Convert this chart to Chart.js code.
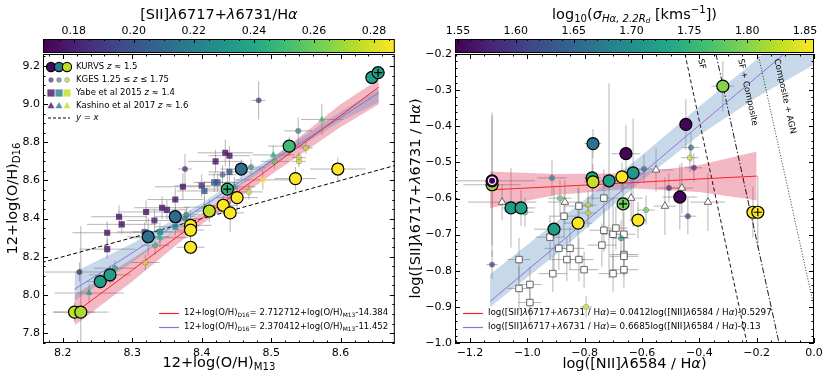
<!DOCTYPE html>
<html lang="en">
<head>
<meta charset="UTF-8" />
<title>Metallicity and [SII]/Hα relations</title>
<script src="https://cdn.jsdelivr.net/npm/chart.js@4"></script>
<style>
  * { margin: 0; padding: 0; box-sizing: border-box; }
  body { background: #fff; width: 830px; height: 378px; position: relative; overflow: hidden; }
  canvas { position: absolute; top: 0; }
  #left { left: 0; }
  #right { left: 402px; }
</style>
</head>
<body>
<canvas id="left" width="402" height="378"></canvas>
<canvas id="right" width="428" height="378"></canvas>
<script>
// ---------- left panel: 12+log(O/H) D16 vs M13, coloured by [SII]/Ha ----------
// rows: [x, y, x error, y error, colour value]
const kurvsOH = [
  [8.217, 7.91, 0.03, 0.05, 0.276], [8.226, 7.91, 0.04, 0.45, 0.272],
  [8.254, 8.07, 0.02, 0.04, 0.235], [8.268, 8.105, 0.03, 0.05, 0.235],
  [8.323, 8.305, 0.03, 0.10, 0.213], [8.362, 8.41, 0.03, 0.05, 0.210],
  [8.384, 8.365, 0.03, 0.08, 0.287], [8.384, 8.34, 0.02, 0.05, 0.287],
  [8.384, 8.25, 0.02, 0.04, 0.287], [8.411, 8.44, 0.02, 0.06, 0.276],
  [8.431, 8.47, 0.02, 0.05, 0.287], [8.437, 8.555, 0.03, 0.08, 0.245],
  [8.441, 8.43, 0.02, 0.10, 0.287], [8.451, 8.51, 0.03, 0.07, 0.287],
  [8.457, 8.66, 0.03, 0.05, 0.212], [8.526, 8.78, 0.03, 0.05, 0.250],
  [8.535, 8.61, 0.03, 0.06, 0.287], [8.596, 8.66, 0.04, 0.06, 0.287],
  [8.645, 9.14, 0.01, 0.03, 0.235], [8.654, 9.165, 0.01, 0.03, 0.235]
];
const markedOH = [[8.437, 8.555], [8.654, 9.165]];
const kgesOH = [
  [8.224, 8.12, 0.05, 0.05, 0.175], [8.275, 8.14, 0.03, 0.04, 0.235],
  [8.319, 8.17, 0.02, 0.04, 0.280], [8.333, 8.26, 0.02, 0.05, 0.250],
  [8.376, 8.40, 0.02, 0.04, 0.220], [8.378, 8.42, 0.02, 0.04, 0.230],
  [8.376, 8.66, 0.01, 0.08, 0.175], [8.430, 8.63, 0.02, 0.05, 0.200],
  [8.482, 9.02, 0.01, 0.10, 0.180], [8.539, 8.86, 0.02, 0.07, 0.215],
  [8.550, 8.77, 0.01, 0.03, 0.280], [8.540, 8.72, 0.01, 0.03, 0.280],
  [8.540, 8.70, 0.01, 0.03, 0.280], [8.505, 8.70, 0.02, 0.04, 0.260],
  [8.471, 8.67, 0.02, 0.04, 0.230], [8.468, 8.54, 0.02, 0.04, 0.280]
];
const yabeOH = [
  [8.264, 8.326, 0.05, 0.06, 0.175], [8.264, 8.24, 0.04, 0.05, 0.175],
  [8.281, 8.41, 0.04, 0.06, 0.175], [8.285, 8.37, 0.05, 0.05, 0.175],
  [8.318, 8.33, 0.04, 0.05, 0.190], [8.320, 8.435, 0.04, 0.06, 0.175],
  [8.332, 8.39, 0.04, 0.06, 0.180], [8.340, 8.33, 0.04, 0.05, 0.225],
  [8.343, 8.457, 0.04, 0.06, 0.175], [8.350, 8.446, 0.03, 0.05, 0.180],
  [8.362, 8.357, 0.03, 0.05, 0.225], [8.362, 8.50, 0.04, 0.06, 0.175],
  [8.373, 8.567, 0.04, 0.07, 0.175], [8.400, 8.572, 0.04, 0.06, 0.185],
  [8.404, 8.545, 0.04, 0.05, 0.200], [8.418, 8.59, 0.03, 0.05, 0.200],
  [8.423, 8.59, 0.03, 0.05, 0.200], [8.420, 8.70, 0.04, 0.06, 0.175],
  [8.434, 8.745, 0.04, 0.07, 0.175], [8.440, 8.73, 0.03, 0.05, 0.175],
  [8.440, 8.645, 0.03, 0.05, 0.200]
];
const kashinoOH = [
  [8.238, 8.01, 0.05, 0.05, 0.235], [8.340, 8.30, 0.04, 0.05, 0.245],
  [8.404, 8.46, 0.03, 0.05, 0.250], [8.503, 8.734, 0.03, 0.05, 0.245],
  [8.488, 8.603, 0.04, 0.05, 0.285], [8.447, 8.567, 0.03, 0.05, 0.235],
  [8.573, 8.92, 0.03, 0.08, 0.250]
];
const identityOH = [8.17, 8.68];
const fitOHx = [8.217, 8.30, 8.40, 8.50, 8.60, 8.655];
const fitOHred = [7.905, 8.13, 8.40, 8.67, 8.94, 9.09];
const fitOHredHi = [8.00, 8.19, 8.43, 8.71, 9.00, 9.13];
const fitOHredLo = [7.84, 8.07, 8.37, 8.63, 8.88, 9.00];
const fitOHpurple = [8.03, 8.22, 8.46, 8.70, 8.93, 9.06];
const fitOHblueHi = [8.12, 8.27, 8.48, 8.72, 8.96, 9.08];
const fitOHblueLo = [7.97, 8.17, 8.44, 8.68, 8.91, 9.01];
const ohXTicks = [8.2, 8.3, 8.4, 8.5, 8.6];
const ohYTicks = [7.8, 8.0, 8.2, 8.4, 8.6, 8.8, 9.0, 9.2];
const siiTicks = [0.18, 0.20, 0.22, 0.24, 0.26, 0.28];

// ---------- right panel: [SII]/Ha vs [NII]/Ha, coloured by log sigma ----------
const kurvsS = [
  [-1.123, -0.562, 0.10, 0.20, 1.81], [-1.123, -0.551, 0.15, 0.18, 1.55],
  [-1.057, -0.626, 0.03, 0.11, 1.72], [-1.022, -0.626, 0.05, 0.05, 1.72],
  [-0.907, -0.685, 0.07, 0.12, 1.72], [-0.771, -0.448, 0.03, 0.04, 1.665],
  [-0.774, -0.543, 0.03, 0.08, 1.73], [-0.771, -0.554, 0.03, 0.05, 1.83],
  [-0.715, -0.551, 0.03, 0.27, 1.72], [-0.670, -0.540, 0.03, 0.04, 1.86],
  [-0.631, -0.529, 0.03, 0.15, 1.71], [-0.656, -0.476, 0.05, 0.08, 1.55],
  [-0.823, -0.668, 0.05, 0.10, 1.86], [-0.666, -0.615, 0.02, 0.08, 1.79],
  [-0.614, -0.660, 0.03, 0.05, 1.86], [-0.447, -0.395, 0.02, 0.07, 1.55],
  [-0.318, -0.289, 0.04, 0.07, 1.80], [-0.468, -0.596, 0.06, 0.09, 1.55],
  [-0.213, -0.638, 0.02, 0.07, 1.86], [-0.196, -0.638, 0.02, 0.10, 1.86]
];
const markedS = [[-0.666, -0.615], [-0.196, -0.638]];
const ringS = [[-1.123, -0.551]];
const kgesS = [
  [-0.914, -0.543, 0.05, 0.05, 1.68], [-0.886, -0.599, 0.04, 0.05, 1.78],
  [-1.008, -0.638, 0.03, 0.04, 1.76], [-0.788, -0.618, 0.03, 0.04, 1.84],
  [-0.788, -0.640, 0.03, 0.04, 1.84], [-0.673, -0.710, 0.03, 0.05, 1.70],
  [-0.593, -0.518, 0.03, 0.04, 1.65], [-0.586, -0.632, 0.03, 0.04, 1.79],
  [-0.429, -0.459, 0.03, 0.04, 1.65], [-0.433, -0.487, 0.03, 0.04, 1.84],
  [-0.419, -0.515, 0.03, 0.04, 1.58], [-0.506, -0.571, 0.04, 0.04, 1.58],
  [-0.440, -0.649, 0.03, 0.05, 1.58], [-1.123, -0.783, 0.02, 0.04, 1.58],
  [-0.795, -0.900, 0.02, 0.03, 1.84]
];
const squaresS = [
  [-0.733, -0.599, 0.06, 0.08], [-0.820, -0.621, 0.05, 0.05], [-0.872, -0.649, 0.05, 0.06],
  [-0.921, -0.707, 0.05, 0.06], [-0.890, -0.738, 0.05, 0.06], [-0.851, -0.738, 0.05, 0.06],
  [-0.733, -0.688, 0.05, 0.06], [-0.701, -0.699, 0.04, 0.10], [-0.691, -0.682, 0.04, 0.06],
  [-0.663, -0.699, 0.04, 0.06], [-0.740, -0.729, 0.05, 0.06], [-0.663, -0.755, 0.05, 0.06],
  [-1.029, -0.769, 0.04, 0.06], [-0.862, -0.769, 0.06, 0.06], [-0.820, -0.769, 0.05, 0.06],
  [-0.802, -0.797, 0.05, 0.05], [-0.911, -0.808, 0.05, 0.05], [-0.701, -0.808, 0.05, 0.05],
  [-0.663, -0.797, 0.05, 0.05], [-0.663, -0.760, 0.05, 0.05], [-0.991, -0.838, 0.04, 0.05],
  [-1.029, -0.849, 0.04, 0.06], [-0.991, -0.888, 0.04, 0.05]
];
const trianglesS = [
  [-1.088, -0.610, 0.12, 0.05], [-0.869, -0.610, 0.06, 0.06], [-0.638, -0.599, 0.04, 0.06],
  [-0.551, -0.521, 0.06, 0.06], [-0.461, -0.571, 0.04, 0.07], [-0.520, -0.621, 0.04, 0.08],
  [-0.370, -0.610, 0.06, 0.08]
];
const fitSx = [-1.13, -0.9, -0.63, -0.4, -0.2];
const fitSred = [-0.576, -0.567, -0.556, -0.546, -0.538];
const fitSredHi = [-0.525, -0.532, -0.530, -0.507, -0.470];
const fitSredLo = [-0.626, -0.590, -0.572, -0.582, -0.605];
const fitSx2 = [-1.13, -0.9, -0.6, -0.4, -0.2, 0.0];
const fitSpurple = [-0.885, -0.732, -0.531, -0.397, -0.264, -0.130];
const fitSblueHi = [-0.810, -0.665, -0.480, -0.345, -0.215, -0.080];
const fitSblueLo = [-0.900, -0.755, -0.550, -0.425, -0.320, -0.230];
const sfLine = [[-0.450, -0.2], [-0.234, -1.0]];
const sfCompLine = [[-0.342, -0.2], [-0.122, -1.0]];
const compAgnLine = [[-0.195, -0.2], [0.0, -0.9]];
const sXTicks = [-1.2, -1.0, -0.8, -0.6, -0.4, -0.2, 0.0];
const sYTicks = [-1.0, -0.9, -0.8, -0.7, -0.6, -0.5, -0.4, -0.3, -0.2];
const sigmaTicks = [1.55, 1.60, 1.65, 1.70, 1.75, 1.80, 1.85];

// ---------- helpers ----------
Chart.defaults.font.family = '"DejaVu Sans", sans-serif';
const viridisStops = ['#440154', '#482475', '#414487', '#355f8d', '#2a788e', '#21918c',
  '#22a884', '#44bf70', '#7ad151', '#bddf26', '#fde725'];
function hexRgb(h) { return [1, 3, 5].map(i => parseInt(h.substr(i, 2), 16)); }
function viridis(t, a = 1) {
  t = Math.min(1, Math.max(0, t));
  const p = t * (viridisStops.length - 1);
  const i = Math.min(Math.floor(p), viridisStops.length - 2), f = p - i;
  const c0 = hexRgb(viridisStops[i]), c1 = hexRgb(viridisStops[i + 1]);
  const c = c0.map((v, k) => Math.round(v + (c1[k] - v) * f));
  return `rgba(${c[0]},${c[1]},${c[2]},${a})`;
}

function fontStr(size, it) { return (it ? 'italic ' : '') + size + 'px "DejaVu Sans"'; }
function drawRich(ctx, segs, x, y, size, align, rot) {
  let w = 0;
  for (const g of segs) { ctx.font = fontStr(size * (g.s || 1), g.it); w += ctx.measureText(g.t).width; }
  ctx.save();
  ctx.translate(x, y);
  if (rot) ctx.rotate(rot);
  ctx.fillStyle = '#000';
  ctx.textAlign = 'left';
  ctx.textBaseline = 'middle';
  let cx = align === 'center' ? -w / 2 : 0;
  for (const g of segs) {
    ctx.font = fontStr(size * (g.s || 1), g.it);
    ctx.fillText(g.t, cx, (g.dy || 0) * size);
    cx += ctx.measureText(g.t).width;
  }
  ctx.restore();
}
const T = t => ({ t });
const I = t => ({ t, it: true });
const SUB = (t, it) => ({ t, s: 0.7, dy: 0.28, it });
const SUP = t => ({ t, s: 0.7, dy: -0.35 });

function mark(ctx, style, x, y, r, fill, stroke, lw) {
  ctx.beginPath();
  if (style === 'circle') ctx.arc(x, y, r, 0, Math.PI * 2);
  else if (style === 'rect') ctx.rect(x - r, y - r, 2 * r, 2 * r);
  else { ctx.moveTo(x, y - r); ctx.lineTo(x + r * 0.87, y + r * 0.55); ctx.lineTo(x - r * 0.87, y + r * 0.55); ctx.closePath(); }
  ctx.fillStyle = fill;
  ctx.fill();
  if (lw) { ctx.lineWidth = lw; ctx.strokeStyle = stroke; ctx.stroke(); }
}

function pointsSet(rows, o) {
  return {
    type: 'scatter',
    data: rows.map(r => ({ x: r[0], y: r[1] })),
    errs: rows.map(r => [r[2] || 0, r[3] || 0]),
    pointStyle: o.style,
    pointRadius: o.r,
    pointBorderWidth: o.lw,
    pointBorderColor: o.edge,
    pointBackgroundColor: o.fill ? o.fill : rows.map(r => viridis((r[4] - o.cmin) / (o.cmax - o.cmin), o.alpha)),
    order: o.order
  };
}
function lineSet(xs, ys, o) {
  return {
    type: 'line',
    data: xs.map((x, i) => ({ x, y: ys[i] })),
    borderColor: o.color || 'rgba(0,0,0,0)',
    borderWidth: o.lw || 0,
    borderDash: o.dash || [],
    pointRadius: 0,
    fill: o.fill || false,
    backgroundColor: o.bg || 'rgba(0,0,0,0)',
    tension: 0,
    order: o.order
  };
}
const pairX = l => l.map(p => p[0]);
const pairY = l => l.map(p => p[1]);

function fmtTick(dec) { return v => v.toFixed(dec).replace('-', '\u2212'); }

function panelPlugin(p) {
  return {
    id: 'panel_' + p.name,
    beforeDatasetsDraw(chart) {
      const { ctx, chartArea: a, scales: { x, y } } = chart;
      ctx.save();
      ctx.beginPath();
      ctx.rect(a.left, a.top, a.right - a.left, a.bottom - a.top);
      ctx.clip();
      ctx.strokeStyle = 'rgba(120,120,120,0.55)';
      ctx.lineWidth = 1;
      chart.data.datasets.forEach(ds => {
        if (!ds.errs) return;
        ds.data.forEach((pt, i) => {
          const [xe, ye] = ds.errs[i];
          const px = x.getPixelForValue(pt.x), py = y.getPixelForValue(pt.y);
          ctx.beginPath();
          ctx.moveTo(x.getPixelForValue(pt.x - xe), py);
          ctx.lineTo(x.getPixelForValue(pt.x + xe), py);
          ctx.moveTo(px, y.getPixelForValue(pt.y - ye));
          ctx.lineTo(px, y.getPixelForValue(pt.y + ye));
          ctx.stroke();
        });
      });
      ctx.restore();
    },
    afterDraw(chart) {
      const { ctx, chartArea: a, scales: { x, y } } = chart;
      ctx.save();
      if (p.decorate) p.decorate(ctx, chart);
      // frame
      ctx.strokeStyle = '#000';
      ctx.lineWidth = 1;
      ctx.strokeRect(a.left + 0.5, a.top + 0.5, a.right - a.left - 1, a.bottom - a.top - 1);
      // inward ticks on all four sides
      ctx.beginPath();
      const tickX = (v, len) => { const px = Math.round(x.getPixelForValue(v)) + 0.5;
        ctx.moveTo(px, a.bottom); ctx.lineTo(px, a.bottom - len); ctx.moveTo(px, a.top); ctx.lineTo(px, a.top + len); };
      const tickY = (v, len) => { const py = Math.round(y.getPixelForValue(v)) + 0.5;
        ctx.moveTo(a.left, py); ctx.lineTo(a.left + len, py); ctx.moveTo(a.right, py); ctx.lineTo(a.right - len, py); };
      for (let v = Math.ceil(x.min / p.xMinor) * p.xMinor; v <= x.max; v += p.xMinor) tickX(v, 2.5);
      for (let v = Math.ceil(y.min / p.yMinor) * p.yMinor; v <= y.max; v += p.yMinor) tickY(v, 2.5);
      p.xTicks.forEach(v => tickX(v, 5));
      p.yTicks.forEach(v => tickY(v, 5));
      ctx.stroke();
      // colour bar
      const cb = p.cbar, L = a.left, R = a.right, top = 39, bot = 53;
      const cx = v => L + (v - cb.min) / (cb.max - cb.min) * (R - L);
      const grad = ctx.createLinearGradient(L, 0, R, 0);
      viridisStops.forEach((c, i) => grad.addColorStop(i / (viridisStops.length - 1), c));
      ctx.fillStyle = grad;
      ctx.fillRect(L, top, R - L, bot - top);
      ctx.strokeRect(L + 0.5, top + 0.5, R - L - 1, bot - top - 1);
      ctx.beginPath();
      for (let v = Math.ceil(cb.min / cb.minor) * cb.minor; v <= cb.max; v += cb.minor) {
        const px = Math.round(cx(v)) + 0.5; ctx.moveTo(px, top); ctx.lineTo(px, top + 2);
      }
      cb.ticks.forEach(v => { const px = Math.round(cx(v)) + 0.5; ctx.moveTo(px, top); ctx.lineTo(px, top + 4); });
      ctx.stroke();
      ctx.fillStyle = '#000';
      ctx.font = fontStr(11);
      ctx.textAlign = 'center';
      ctx.textBaseline = 'middle';
      cb.ticks.forEach(v => ctx.fillText(v.toFixed(2), cx(v), 31));
      drawRich(ctx, cb.title, (L + R) / 2, 15, 14.5, 'center');
      ctx.restore();
    }
  };
}

function buildPanel(id, p) {
  return new Chart(document.getElementById(id), {
    type: 'scatter',
    data: { datasets: p.datasets },
    options: {
      responsive: false,
      animation: false,
      devicePixelRatio: 1,
      events: [],
      layout: { padding: { top: 54, right: p.padRight, left: 0, bottom: 0 } },
      plugins: { legend: { display: false }, tooltip: { enabled: false } },
      scales: {
        x: {
          type: 'linear', min: p.xMin, max: p.xMax,
          grid: { display: false, drawTicks: false }, border: { display: false },
          ticks: { color: '#000', font: { size: 11 }, padding: 4, callback: fmtTick(p.xDec), maxRotation: 0 },
          afterBuildTicks: s => { s.ticks = p.xTicks.map(v => ({ value: v })); },
          afterFit: s => { s.height = 35; }
        },
        y: {
          type: 'linear', min: p.yMin, max: p.yMax,
          grid: { display: false, drawTicks: false }, border: { display: false },
          ticks: { color: '#000', font: { size: 11 }, padding: 3, callback: fmtTick(1) },
          afterBuildTicks: s => { s.ticks = p.yTicks.map(v => ({ value: v })); },
          afterFit: s => { s.width = p.yWidth; }
        }
      }
    },
    plugins: [panelPlugin(p)]
  });
}

// ---------- left panel ----------
const siiMin = 0.1698, siiMax = 0.2869;
const cOH = { cmin: siiMin, cmax: siiMax };
buildPanel('left', {
  name: 'oh', xMin: 8.1716, xMax: 8.678, yMin: 7.748, yMax: 9.263,
  xTicks: ohXTicks, yTicks: ohYTicks, xMinor: 0.02, yMinor: 0.05, xDec: 1,
  yWidth: 43, padRight: 2,
  cbar: { min: siiMin, max: siiMax, ticks: siiTicks, minor: 0.005,
    title: [T('[SII]'), I('λ'), T('6717+'), I('λ'), T('6731/H'), I('α')] },
  datasets: [
    pointsSet(kurvsOH, { ...cOH, style: 'circle', r: 6, lw: 1.2, edge: '#000', alpha: 1, order: 1 }),
    pointsSet(markedOH, { style: 'cross', r: 4, lw: 1.2, edge: '#000', fill: 'rgba(0,0,0,0)', order: 0 }),
    pointsSet(kgesOH, { ...cOH, style: 'circle', r: 2.7, lw: 0.6, edge: 'rgba(90,90,90,0.6)', alpha: 0.65, order: 3 }),
    pointsSet(yabeOH, { ...cOH, style: 'rect', r: 4.3, lw: 0, edge: 'rgba(0,0,0,0)', alpha: 0.8, order: 4 }),
    pointsSet(kashinoOH, { ...cOH, style: 'triangle', r: 4, lw: 0, edge: 'rgba(0,0,0,0)', alpha: 0.8, order: 3 }),
    lineSet(identityOH, identityOH, { color: '#000', lw: 1, dash: [4, 2.5], order: 6 }),
    lineSet(fitOHx, fitOHred, { color: '#ff2020', lw: 1, order: 5 }),
    lineSet(fitOHx, fitOHpurple, { color: '#9370db', lw: 1, order: 5 }),
    lineSet(fitOHx, fitOHredHi, { fill: '+1', bg: 'rgba(220,20,60,0.3)', order: 9 }),
    lineSet(fitOHx, fitOHredLo, { order: 9 }),
    lineSet(fitOHx, fitOHblueHi, { fill: '+1', bg: 'rgba(70,130,180,0.3)', order: 8 }),
    lineSet(fitOHx, fitOHblueLo, { order: 8 })
  ],
  decorate(ctx, chart) {
    const a = chart.chartArea;
    // upper-left legend
    const rows = [67, 80, 93, 106, 118];
    const lx = [51, 59, 67];
    const tri = [viridis(0.02), viridis(0.42), viridis(0.9)];
    lx.forEach((x, i) => mark(ctx, 'circle', x, rows[0], 4.6, tri[i], '#000', 1.1));
    lx.forEach((x, i) => mark(ctx, 'circle', x, rows[1], 2.4, viridis([0.05, 0.42, 0.85][i], 0.65), 'rgba(90,90,90,0.6)', 0.6));
    lx.forEach((x, i) => mark(ctx, 'rect', x, rows[2], 3.6, viridis([0.05, 0.42, 0.9][i], 0.8)));
    lx.forEach((x, i) => mark(ctx, 'triangle', x, rows[3], 4, viridis([0.05, 0.42, 0.9][i], 0.8)));
    ctx.strokeStyle = '#000'; ctx.lineWidth = 1; ctx.setLineDash([3, 2]);
    ctx.beginPath(); ctx.moveTo(48, rows[4]); ctx.lineTo(70, rows[4]); ctx.stroke(); ctx.setLineDash([]);
    const labels = [
      [T('KURVS '), I('z'), T(' ≈ 1.5')],
      [T('KGES 1.25 ≤ '), I('z'), T(' ≤ 1.75')],
      [T('Yabe et al 2015 '), I('z'), T(' ≈ 1.4')],
      [T('Kashino et al 2017 '), I('z'), T(' ≈ 1.6')],
      [I('y'), T(' = '), I('x')]
    ];
    labels.forEach((l, i) => drawRich(ctx, l, 76, rows[i], 8.5, 'left'));
    // lower-right fit legend
    ctx.lineWidth = 1.2;
    ctx.strokeStyle = '#ff2020'; ctx.beginPath(); ctx.moveTo(159, 313.5); ctx.lineTo(179, 313.5); ctx.stroke();
    ctx.strokeStyle = '#9370db'; ctx.beginPath(); ctx.moveTo(159, 327.5); ctx.lineTo(179, 327.5); ctx.stroke();
    drawRich(ctx, [T('12+log(O/H)'), SUB('D16'), T('= 2.712712+log(O/H)'), SUB('M13'), T('-14.384')], 184, 313, 8.5, 'left');
    drawRich(ctx, [T('12+log(O/H)'), SUB('D16'), T('= 2.370412+log(O/H)'), SUB('M13'), T('-11.452')], 184, 327, 8.5, 'left');
    // axis titles
    drawRich(ctx, [T('12+log(O/H)'), SUB('M13')], (a.left + a.right) / 2, 363, 14.5, 'center');
    drawRich(ctx, [T('12+log(O/H)'), SUB('D16')], 13, (a.top + a.bottom) / 2, 14.5, 'center', -Math.PI / 2);
  }
});

// ---------- right panel ----------
const sigMin = 1.5474, sigMax = 1.8578;
const cS = { cmin: sigMin, cmax: sigMax };
buildPanel('right', {
  name: 's2', xMin: -1.2523, xMax: 0.0, yMin: -1.0, yMax: -0.2,
  xTicks: sXTicks, yTicks: sYTicks, xMinor: 0.05, yMinor: 0.02, xDec: 1,
  yWidth: 53, padRight: 16,
  cbar: { min: sigMin, max: sigMax, ticks: sigmaTicks, minor: 0.01,
    title: [T('log'), SUB('10'), T('('), I('σ'), SUB('Hα, 2.2R', true), { t: 'd', s: 0.5, dy: 0.4, it: true },
      T(' [kms'), SUP('\u22121'), T('])')] },
  datasets: [
    pointsSet(kurvsS, { ...cS, style: 'circle', r: 6, lw: 1.2, edge: '#000', alpha: 1, order: 1 }),
    pointsSet(markedS, { style: 'cross', r: 4, lw: 1.2, edge: '#000', fill: 'rgba(0,0,0,0)', order: 0 }),
    pointsSet(ringS, { style: 'circle', r: 3.6, lw: 1.2, edge: '#fff', fill: viridis(0), order: 0 }),
    pointsSet(kgesS, { ...cS, style: 'circle', r: 2.7, lw: 0.6, edge: 'rgba(90,90,90,0.6)', alpha: 0.65, order: 3 }),
    pointsSet(squaresS, { style: 'rect', r: 4.6, lw: 0.9, edge: '#555', fill: '#fff', order: 4 }),
    pointsSet(trianglesS, { style: 'triangle', r: 4.4, lw: 0.9, edge: '#555', fill: '#fff', order: 4 }),
    lineSet(pairX(sfLine), pairY(sfLine), { color: '#000', lw: 0.9, dash: [4, 2.5], order: 6 }),
    lineSet(pairX(sfCompLine), pairY(sfCompLine), { color: '#000', lw: 0.9, dash: [6, 2, 1.5, 2], order: 6 }),
    lineSet(pairX(compAgnLine), pairY(compAgnLine), { color: '#000', lw: 0.8, dash: [1, 1.8], order: 6 }),
    lineSet(fitSx, fitSred, { color: '#ff2020', lw: 1, order: 5 }),
    lineSet(fitSx2, fitSpurple, { color: '#9370db', lw: 1, order: 5 }),
    lineSet(fitSx, fitSredHi, { fill: '+1', bg: 'rgba(220,20,60,0.3)', order: 9 }),
    lineSet(fitSx, fitSredLo, { order: 9 }),
    lineSet(fitSx2, fitSblueHi, { fill: '+1', bg: 'rgba(70,130,180,0.3)', order: 8 }),
    lineSet(fitSx2, fitSblueLo, { order: 8 })
  ],
  decorate(ctx, chart) {
    const a = chart.chartArea, { x, y } = chart.scales;
    // rotated labels of the diagnostic lines
    const ann = [
      [sfLine, [T('SF')], -0.396, -0.214],
      [sfCompLine, [T('SF + Composite')], -0.257, -0.214],
      [compAgnLine, [T('Composite + AGN')], -0.131, -0.214]
    ];
    ann.forEach(([ln, txt, tx, ty]) => {
      const ang = Math.atan2(y.getPixelForValue(ln[1][1]) - y.getPixelForValue(ln[0][1]),
        x.getPixelForValue(ln[1][0]) - x.getPixelForValue(ln[0][0]));
      drawRich(ctx, txt, x.getPixelForValue(tx), y.getPixelForValue(ty), 8.5, 'left', ang);
    });
    // fit legend
    ctx.lineWidth = 1.2;
    ctx.strokeStyle = '#ff2020'; ctx.beginPath(); ctx.moveTo(61, 313.5); ctx.lineTo(81, 313.5); ctx.stroke();
    ctx.strokeStyle = '#9370db'; ctx.beginPath(); ctx.moveTo(61, 327.5); ctx.lineTo(81, 327.5); ctx.stroke();
    const lhs = [T('log([SII]'), I('λ'), T('6717+'), I('λ'), T('6731 / H'), I('α')];
    drawRich(ctx, [...lhs, T(')= 0.0412log([NII]'), I('λ'), T('6584 / H'), I('α'), T(')-0.5297')], 86, 313, 8.8, 'left');
    drawRich(ctx, [...lhs, T(')= 0.6685log([NII]'), I('λ'), T('6584 / H'), I('α'), T(')-0.13')], 86, 327, 8.8, 'left');
    // axis titles
    drawRich(ctx, [T('log([NII]'), I('λ'), T('6584 / H'), I('α'), T(')')], (a.left + a.right) / 2, 364, 14.5, 'center');
    drawRich(ctx, [...lhs, T(')')], 14, (a.top + a.bottom) / 2, 14.5, 'center', -Math.PI / 2);
  }
});
</script>
</body>
</html>
